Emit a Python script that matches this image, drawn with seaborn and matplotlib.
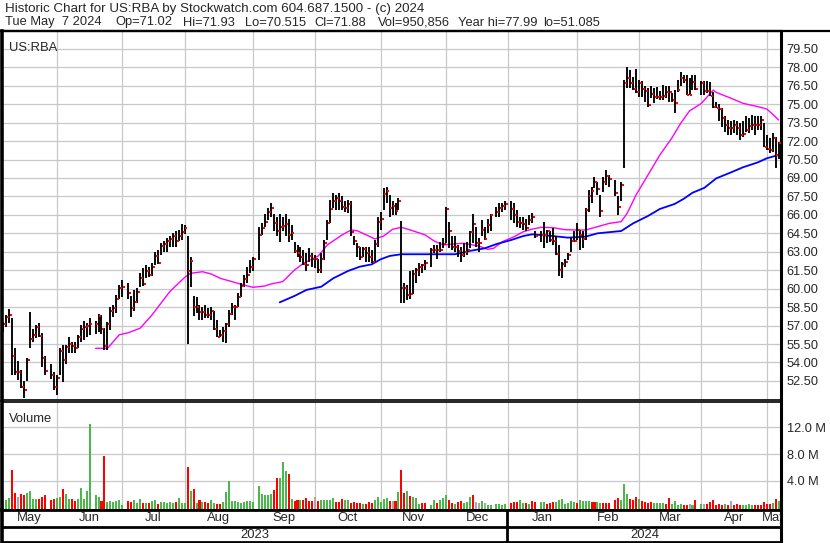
import numpy as np
import pandas as pd
import seaborn as sns
import matplotlib.pyplot as plt
from matplotlib.lines import Line2D

sns.set_style("white")
plt.rcParams['font.family'] = ['Liberation Sans', 'DejaVu Sans']

# trading-day slots (weekdays), holidays are None
dates = pd.bdate_range("2023-05-08", "2024-05-07")

high = [
    57.3, 57.9, 58.35, 57.6, 55.15, 54.1, 53.4, 52.5, 54.4, 58.1,
    56.7, 57.05, 57.2, 56.4, 54.5, None, 53.9, 53.2, 53.0, 55.15,
    55.4, 55.4, 56.1, 55.7, 55.7, 56.25, 57.05, 57.35, 57.2, 57.6,
    None, 57.35, 57.95, 57.9, 56.8, 57.3, 58.55, 58.7, 59.5, 60.3,
    60.7, None, 60.5, 59.4, 59.9, 60.05, 61.25, 61.65, 61.95, 61.75,
    62.05, 63.0, 63.15, 63.7, 63.85, 64.1, 64.3, 64.5, 64.65, 64.8,
    65.25, 65.2, 64.3, 62.6, 59.4, 59.35, 58.7, 58.55, 58.7, 58.4,
    58.55, 58.2, 57.45, 56.65, 56.9, 57.25, 58.25, 58.8, 58.7, 59.65,
    60.45, 61.1, 61.8, 62.35, 62.6, None, 65.05, 65.3, 66.1, 66.55,
    66.95, 66.1, 65.85, 66.1, 65.85, 66.1, 65.7, 65.2, 63.8, 63.55,
    63.4, 63.15, 62.9, 63.3, 62.9, 62.75, 62.45, 62.9, 63.95, 65.6,
    67.2, 67.75, 67.6, 67.75, 67.5, 67.1, 67.2, 67.1, 64.25, 63.7,
    63.4, 63.4, 63.4, 63.4, 63.15, 63.95, 65.85, 66.25, 68.15, 68.3,
    67.6, 67.1, 66.95, 67.35, 65.5, 60.45, 60.3, 61.4, 61.5, 61.65,
    62.05, 62.0, 62.35, None, 63.3, 63.55, 63.55, 63.8, 64.1, 66.65,
    65.45, 64.25, 64.25, 63.55, 63.4, 63.7, 63.8, 64.65, 66.1, 65.05,
    64.1, 65.6, 65.05, 65.7, 66.1, None, 66.65, 66.95, 66.95, 67.1,
    None, 67.1, 66.95, 66.4, 65.85, 65.85, 65.7, 66.0, 66.15, 64.65,
    None, 64.65, 65.45, 64.75, 64.65, 64.9, 64.25, 63.55, 62.2, 62.45,
    62.9, 64.1, 64.65, 65.3, 64.75, 64.65, 66.55, 68.0, 68.3, 69.1,
    68.7, 67.6, 69.1, 69.65, 69.25, None, 68.85, 67.5, 68.7, 76.95,
    78.0, 77.8, 77.25, 77.9, 76.95, 76.85, 76.45, 76.3, 76.45, 76.3,
    76.4, 76.1, 76.55, 76.45, 76.45, 75.9, 76.15, 76.95, 77.65, 77.35,
    77.35, 77.1, 77.35, 77.35, None, 76.85, 76.85, 76.85, 76.8, 76.0,
    75.2, 75.05, 74.65, 74.0, 73.7, 73.6, 73.7, 73.6, 73.45, 73.6,
    74.0, 73.85, 74.1, 74.0, 74.0, 74.0, 73.45, 72.5, 72.25, 72.65,
    72.35, 71.93]

low = [
    56.5, 56.9, 57.2, 53.0, 53.0, 52.6, 51.9, 51.08, 52.5, 55.2,
    55.7, 56.0, 56.1, 53.65, 53.0, None, 52.65, 51.75, 51.35, 53.0,
    52.45, 53.9, 54.75, 54.75, 54.75, 55.15, 55.7, 55.85, 56.1, 56.25,
    None, 56.35, 56.5, 56.35, 55.05, 55.05, 56.65, 57.7, 58.0, 59.2,
    59.35, None, 59.2, 57.7, 58.15, 58.8, 60.15, 60.2, 60.85, 60.95,
    61.0, 61.95, 62.0, 62.75, 63.0, 62.95, 63.4, 63.4, 63.4, 63.85,
    63.95, 64.45, 55.5, 60.15, 57.75, 58.0, 57.45, 57.45, 57.6, 57.6,
    57.45, 56.65, 56.1, 56.1, 55.7, 55.6, 56.9, 57.85, 57.45, 58.55,
    59.35, 60.15, 60.45, 61.25, 61.4, None, 62.35, 64.35, 65.05, 65.6,
    65.85, 64.65, 64.25, 63.8, 64.65, 64.25, 63.8, 63.95, 62.9, 62.6,
    62.2, 61.95, 61.4, 62.2, 61.8, 61.65, 61.25, 61.25, 62.35, 63.95,
    65.3, 66.55, 66.4, 66.4, 66.4, 66.25, 66.15, 64.25, 63.55, 62.6,
    62.35, 62.6, 62.2, 62.2, 62.05, 62.2, 63.4, 64.75, 66.4, 66.95,
    65.85, 66.0, 66.0, 66.4, 58.8, 58.8, 59.1, 59.2, 59.6, 60.45,
    61.0, 61.25, 61.5, None, 61.8, 62.9, 62.45, 63.0, 63.3, 63.7,
    63.3, 63.15, 63.0, 62.6, 62.2, 62.6, 62.75, 63.3, 63.7, 63.4,
    63.0, 64.25, 63.95, 64.5, 64.65, None, 65.85, 65.85, 66.25, 66.4,
    None, 65.6, 65.3, 65.05, 64.9, 64.75, 64.65, 65.2, 65.3, 64.1,
    None, 63.8, 63.3, 63.7, 63.8, 63.55, 62.75, 61.0, 60.85, 61.8,
    62.35, 63.0, 63.8, 63.95, 63.15, 63.3, 63.95, 66.25, 66.95, 68.15,
    67.6, 65.8, 67.9, 68.45, 68.3, None, 67.5, 66.0, 67.1, 69.8,
    76.3, 76.3, 76.15, 75.9, 75.6, 75.6, 75.2, 74.8, 75.5, 75.1,
    75.45, 75.3, 75.35, 75.5, 75.2, 75.2, 74.25, 76.0, 76.45, 76.7,
    75.75, 75.75, 76.15, 76.15, None, 75.75, 75.75, 75.9, 75.65, 74.65,
    74.65, 73.6, 73.15, 72.75, 72.5, 72.5, 72.65, 72.5, 72.1, 72.35,
    72.75, 72.65, 72.9, 72.5, 72.9, 72.9, 71.55, 71.3, 71.0, 71.15,
    69.8, 70.515]

close = [
    57.1, 57.7, 57.9, 54.5, 53.25, 53.25, 52.0, 51.75, 54.2, 55.9,
    56.2, 56.9, 56.15, 54.35, 53.3, None, 52.98, 52.0, 52.75, 54.9,
    54.2, 55.25, 55.5, 55.35, 55.2, 56.1, 56.7, 56.85, 57.0, 57.1,
    None, 57.15, 57.8, 56.7, 55.35, 57.1, 58.2, 58.45, 59.15, 60.05,
    60.15, None, 59.65, 58.45, 58.95, 59.75, 60.9, 60.35, 61.45, 61.1,
    61.8, 62.65, 62.1, 63.5, 63.65, 63.85, 64.05, 64.3, 63.85, 64.3,
    64.6, 64.95, 61.45, 62.25, 58.5, 58.5, 58.1, 58.1, 57.85, 57.9,
    58.15, 56.75, 56.1, 56.2, 56.6, 57.15, 57.95, 58.5, 58.5, 59.3,
    60.2, 60.8, 61.1, 61.75, 62.4, None, 64.4, 64.9, 65.45, 66.25,
    66.55, 65.35, 64.7, 65.05, 65.1, 65.25, 64.4, 64.5, 63.05, 62.9,
    62.55, 62.0, 61.95, 62.65, 62.45, 62.4, 61.55, 62.4, 63.75, 65.3,
    66.5, 67.15, 67.35, 67.1, 66.65, 66.6, 66.85, 64.6, 63.9, 63.35,
    62.55, 63.2, 62.9, 62.6, 62.2, 63.65, 65.45, 65.7, 67.7, 67.95,
    66.55, 66.75, 66.3, 67.15, 60.05, 60.05, 59.5, 59.6, 61.2, 61.5,
    61.8, 61.95, 62.05, None, 63.15, 63.15, 63.15, 63.15, 63.65, 66.5,
    64.7, 63.35, 63.35, 63.1, 62.7, 63.0, 63.15, 64.6, 65.25, 63.75,
    63.75, 64.75, 64.05, 65.2, 65.95, None, 66.2, 66.55, 66.7, 66.85,
    None, 66.5, 66.0, 65.45, 65.35, 65.25, 64.9, 65.55, 65.8, 64.25,
    None, 64.35, 64.35, 64.7, 63.95, 63.9, 62.8, 61.55, 62.0, 62.2,
    62.75, 63.9, 63.9, 64.75, 64.35, 64.05, 66.4, 67.5, 67.95, 68.65,
    68.1, 66.35, 68.7, 69.2, 68.9, None, 67.75, 66.65, 68.4, 76.75,
    77.15, 76.75, 76.25, 75.95, 76.7, 76.2, 76.05, 74.9, 75.8, 75.6,
    75.55, 75.55, 75.65, 75.95, 75.95, 75.3, 75.1, 76.15, 77.15, 76.95,
    75.75, 75.75, 76.8, 76.2, None, 76.75, 76.05, 76.05, 75.7, 74.8,
    74.65, 74.6, 73.85, 73.3, 73.1, 73.1, 73.3, 73.1, 72.5, 72.6,
    72.9, 73.25, 73.3, 73.3, 73.3, 73.7, 71.55, 71.35, 71.3, 72.25,
    70.85, 71.88]

# volume in millions
volume = [
    0.8, 1.1, 1.35, 5.6, 2.1, 1.55, 1.95, 1.85, 2.1, 2.4,
    1.2, 1.2, 1.2, 1.5, 1.8, None, 1.1, 1.2, 1.4, 1.5,
    2.7, 1.95, 1.3, 1.2, 0.9, 1.2, 2.85, 1.3, 2.4, 12.45,
    None, 1.9, 1.5, 0.95, 7.64, 0.8, 0.9, 0.8, 0.95, 1.1,
    0.3, None, 0.9, 0.8, 1.1, 0.6, 1.2, 0.6, 0.7, 0.7,
    1.0, 1.1, 0.45, 0.75, 0.75, 0.7, 0.8, 0.65, 0.75, 1.35,
    0.7, 0.65, 6.0, 2.4, 2.8, 0.7, 1.05, 0.75, 0.75, 0.7,
    1.05, 0.7, 0.45, 0.5, 0.8, 2.25, 3.9, 1.0, 0.9, 0.75,
    0.65, 0.8, 0.95, 0.9, 0.75, None, 3.15, 1.95, 1.9, 1.85,
    1.95, 2.6, 4.35, 4.35, 6.75, 5.4, 4.95, 1.2, 0.95, 1.05,
    1.05, 1.05, 1.45, 0.9, 0.9, 1.5, 0.9, 1.05, 1.05, 1.05,
    1.05, 1.35, 0.8, 0.8, 1.2, 1.05, 1.05, 0.7, 0.75, 0.65,
    0.7, 0.45, 0.45, 0.75, 0.7, 1.05, 1.5, 0.75, 1.25, 1.35,
    0.9, 0.9, 0.9, 2.25, 5.6, 2.1, 2.4, 1.65, 1.5, 1.35,
    0.55, 0.65, 0.7, None, 0.3, 1.05, 0.65, 1.05, 1.35, 1.85,
    1.05, 0.65, 0.55, 0.75, 0.9, 0.6, 0.8, 1.5, 1.8, 0.75,
    0.7, 0.95, 0.65, 0.4, 0.4, None, 0.45, 0.45, 0.4, 0.5,
    None, 0.7, 0.75, 0.85, 1.05, 0.6, 0.7, 0.55, 0.9, 0.75,
    None, 0.75, 0.75, 0.55, 0.65, 0.75, 0.85, 1.05, 1.25, 0.55,
    0.65, 0.9, 0.75, 0.6, 1.05, 1.0, 0.95, 0.95, 0.75, 0.75,
    0.75, 0.7, 0.65, 0.7, 0.65, None, 1.05, 1.35, 1.1, 3.45,
    1.95, 1.2, 1.1, 1.5, 1.2, 0.95, 0.75, 0.65, 0.75, 0.65,
    0.6, 0.6, 0.6, 0.55, 1.35, 0.55, 0.9, 0.3, 0.45, 0.3,
    0.4, 0.45, 0.4, 1.05, None, 0.45, 0.55, 0.55, 0.75, 1.05,
    0.4, 0.45, 0.4, 0.45, 0.4, 0.9, 0.4, 0.45, 0.4, 0.4,
    0.4, 0.45, 0.4, 0.4, 0.4, 0.4, 0.75, 0.45, 0.5, 0.65,
    1.2, 0.95]

# g = up day, r = down day, n = unchanged, - = no trading
vol_dir = ("nggrrnrrgg" "ggrrr-rrgg" "rggrrggggg" "-ggrrggggg" "g-rrgggrgr"
           "ggrgggggrg" "ggrgrgrgrr" "ggrrgggggg" "ggggg-gggg" "grrgggrgrr"
           "grrrrnrggg" "ggrrrggrrr" "rgrrrggggg" "rnrgrrgrgg" "grr-ggrggg"
           "rrgrrgggrn" "ngngg-gggg" "-rrrggrgrr" "-ggrrrgggg" "gggrggggrr"
           "ggrrr-rrgg" "grrrgrrrrg" "gggrrggggr" "rngr-gnrrr" "rrrgrnrrrg"
           "gggrrrrrrg" "rg")

# moving averages (bar slot, price)
ma_fast_pos = [31, 35, 37, 39, 42, 46, 50, 53, 56, 61, 63, 67, 70, 73, 77, 80, 84, 88, 90, 94,
               98, 101, 106, 109, 114, 117, 119, 123, 125, 128, 131, 134, 137, 142, 145, 148,
               151, 155, 160, 163, 165, 168, 172, 175, 178, 181, 185, 189, 193, 196, 200, 204,
               208, 210, 213, 217, 221, 225, 228, 231, 235, 237, 239, 240, 245, 249, 254, 257,
               259, 261]
ma_fast = [55.15, 55.15, 55.7, 56.25, 56.42, 56.78, 57.86, 58.81, 59.76, 60.92, 61.25, 61.38,
           61.19, 60.84, 60.57, 60.36, 60.11, 60.22, 60.38, 60.57, 61.52, 62.06, 62.66, 63.55,
           64.37, 64.77, 64.72, 64.28, 64.04, 64.28, 64.83, 64.99, 64.77, 64.37, 63.88, 63.55,
           63.63, 63.69, 63.47, 63.2, 63.28, 63.82, 64.23, 64.63, 64.84, 64.99, 64.96, 64.8,
           64.77, 64.77, 65.04, 65.31, 65.45, 66.13, 67.62, 69.24, 70.87, 72.23, 73.44, 74.45,
           75.07, 75.61, 76.15, 75.96, 75.48, 75.07, 74.8, 74.61, 74.18, 73.72]
ma_slow_pos = [93, 98, 102, 107, 111, 116, 120, 124, 127, 130, 134, 152, 157, 162, 166, 171,
               175, 178, 185, 190, 196, 200, 208, 212, 217, 221, 226, 229, 232, 236, 240, 245,
               249, 254, 257, 261]
ma_slow = [58.89, 59.41, 59.9, 60.16, 60.84, 61.44, 61.79, 61.98, 62.39, 62.66, 62.8, 62.8,
           63.07, 63.28, 63.63, 63.96, 64.28, 64.42, 64.28, 64.15, 64.23, 64.5, 64.69, 65.31,
           65.91, 66.48, 66.89, 67.3, 67.8, 68.2, 68.97, 69.46, 69.87, 70.27, 70.6, 70.87]

bars = pd.DataFrame({"slot": np.arange(len(dates)), "high": high, "low": low,
                     "close": close, "vol": volume, "dir": list(vol_dir)})
bars = bars.dropna(subset=["high"])
ma1 = pd.DataFrame({"slot": ma_fast_pos, "price": ma_fast})
ma2 = pd.DataFrame({"slot": ma_slow_pos, "price": ma_slow})

W, H = 830, 543
fig = plt.figure(figsize=(W / 100, H / 100), dpi=100)


def px_axes(x0, y0, x1, y1):
    return fig.add_axes([x0 / W, 1 - y1 / H, (x1 - x0) / W, (y1 - y0) / H])


XMIN, XMAX = -0.5, 261.8
GRID = "#c8c8c8"
month_first = [i for i in range(1, len(dates)) if dates[i].month != dates[i - 1].month]
bounds = [XMIN] + month_first + [XMAX]


def frame(a, lw_top=1.2, lw_bottom=1.2):
    a.set_xlim(XMIN, XMAX)
    a.set_xticks([])
    for s in a.spines.values():
        s.set_color("black")
        s.set_visible(True)
    a.spines["left"].set_linewidth(2.6)
    a.spines["right"].set_linewidth(2.2)
    a.spines["top"].set_linewidth(lw_top)
    a.spines["bottom"].set_linewidth(lw_bottom)
    a.yaxis.tick_right()
    a.tick_params(axis="y", length=0, pad=4, labelsize=9.2)


# price panel
ax = px_axes(2, 31, 781, 400)
frame(ax, lw_top=1.6, lw_bottom=1.2)
ax.set_ylim(50.95, 80.95)
yt = np.arange(52.5, 79.6, 1.5)
ax.set_yticks(yt)
ax.set_yticklabels([f"{v:.2f}" for v in yt])
for y in yt:
    ax.axhline(y, color=GRID, lw=0.9, zorder=0)
for m in month_first:
    ax.axvline(m, color=GRID, lw=0.9, zorder=0)

ax.vlines(bars["slot"], bars["low"], bars["high"], color="black", lw=1.35, zorder=3)
ax.plot(bars["slot"] + 0.62, bars["close"], ls="none", marker="s", ms=2.1, mew=0,
        color="#ff0000", zorder=4)
sns.lineplot(data=ma1, x="slot", y="price", color="#ff00ff", lw=1.0, ax=ax, zorder=2)
sns.lineplot(data=ma2, x="slot", y="price", color="#0000ff", lw=1.3, ax=ax, zorder=2)
ax.set_xlabel("")
ax.set_ylabel("")
ax.set_xlim(XMIN, XMAX)
ax.text(0.009, 0.97, "US:RBA", transform=ax.transAxes, fontsize=9.4, va="top", ha="left")

# volume panel
axv = px_axes(2, 402, 781, 509.5)
frame(axv, lw_top=1.2, lw_bottom=2.0)
VMIN = -0.3
axv.set_ylim(VMIN, 15.8)
vt = [4, 8, 12]
axv.set_yticks(vt)
axv.set_yticklabels([f"{v:.1f} M" for v in vt])
for y in vt:
    axv.axhline(y, color=GRID, lw=0.9, zorder=0)
for m in month_first:
    axv.axvline(m, color=GRID, lw=0.9, zorder=0)
vcol = {"g": "#4cb84c", "r": "#ff0000", "n": "#a8a8a8"}
axv.bar(bars["slot"], bars["vol"] - VMIN, bottom=VMIN, width=0.68,
        color=[vcol[d] for d in bars["dir"]], linewidth=0, zorder=2)
axv.text(0.009, 0.9, "Volume", transform=axv.transAxes, fontsize=9.4, va="top", ha="left")

# date band
axd = px_axes(2, 509.5, 781, 542)
frame(axd, lw_top=2.0, lw_bottom=2.0)
axd.set_ylim(0, 1)
axd.set_yticks([])
axd.axhline(0.47, color="black", lw=2.0)
names = [d.strftime("%b") for d in [dates[0]] + [dates[i] for i in month_first]]
for k, name in enumerate(names):
    axd.text((bounds[k] + bounds[k + 1]) / 2, 0.74, name, ha="center", va="center",
             fontsize=9.4, clip_on=True)
year_cut = [i for i in month_first if dates[i].year != dates[i - 1].year][0]
axd.plot([year_cut - 0.5, year_cut - 0.5], [0, 1], color="black", lw=2.0)
axd.text((XMIN + year_cut) / 2, 0.22, str(dates[0].year), ha="center", va="center", fontsize=9.4)
axd.text((year_cut + XMAX) / 2, 0.22, str(dates[-1].year), ha="center", va="center", fontsize=9.4)

# header
fig.add_artist(Line2D([0, 1], [1 - 31 / H, 1 - 31 / H], color="black", lw=1.6))
fig.text(5 / W, 1 - 9 / H, "Historic Chart for US:RBA by Stockwatch.com 604.687.1500 - (c) 2024",
         fontsize=9.6, va="center", ha="left")
line2 = [(5, "Tue May  7 2024"), (115, "Op=71.02"), (183, "Hi=71.93"), (245, "Lo=70.515"),
         (314, "Cl=71.88"), (378, "Vol=950,856"), (458, "Year hi=77.99"), (543, "lo=51.085")]
for x, t in line2:
    fig.text(x / W, 1 - 22.5 / H, t, fontsize=9.3, va="center", ha="left")

fig.savefig("out.png", dpi=100)
